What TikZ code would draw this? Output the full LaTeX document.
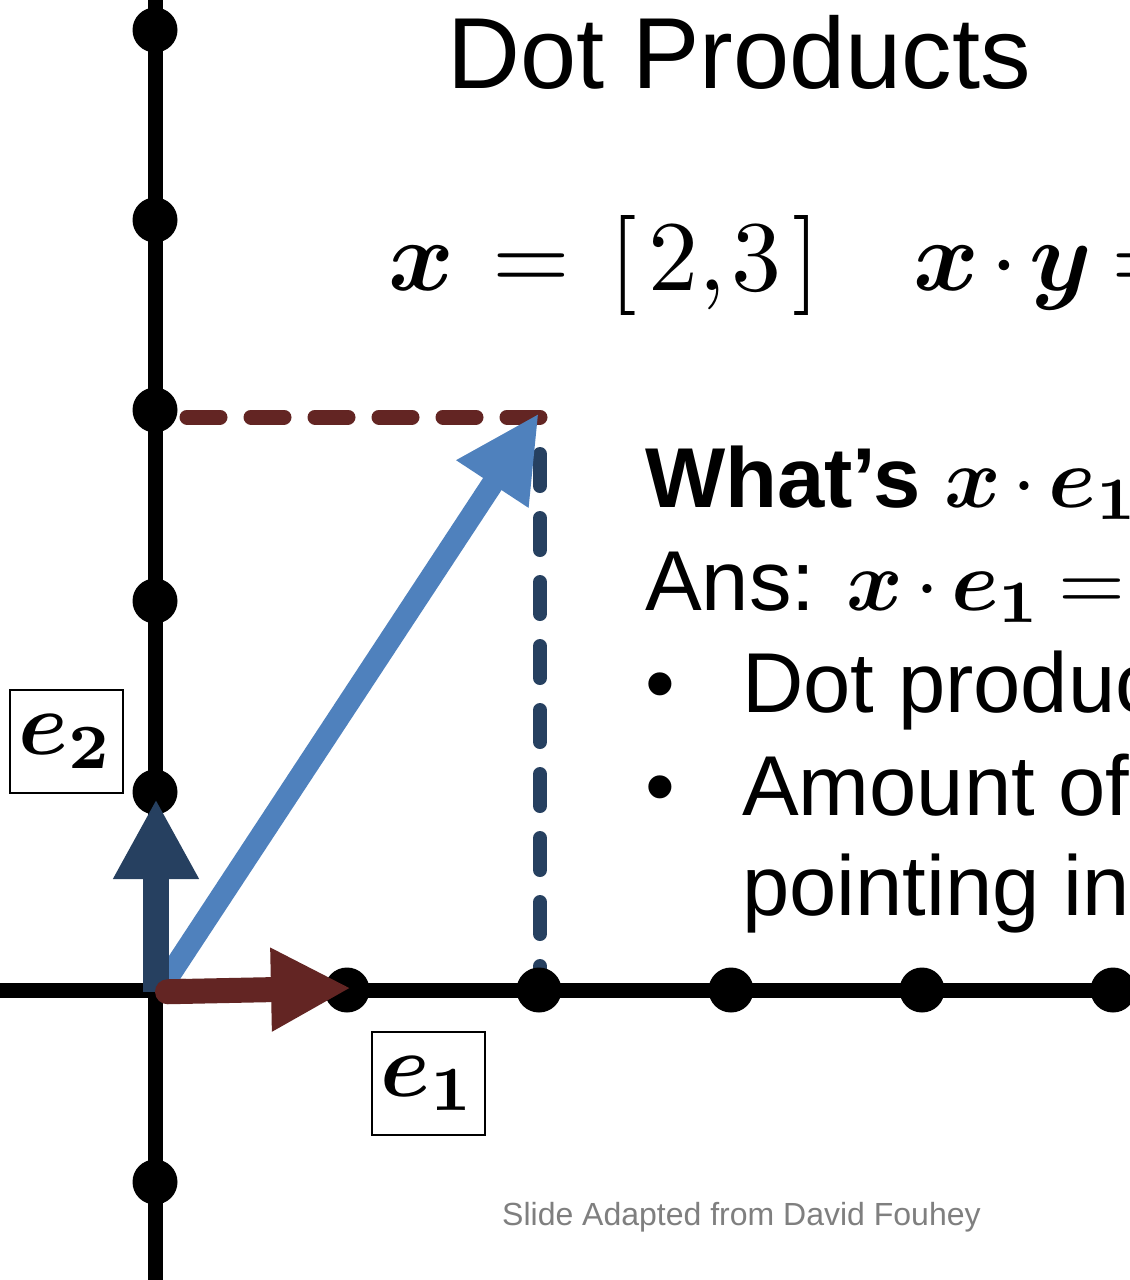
\documentclass[tikz,border=0pt]{standalone}
\usepackage[no-math]{fontspec}
\setmainfont{Liberation Sans}
\usepackage{amsmath}
\usepackage{bm}
\usepackage{graphicx}
\usetikzlibrary{arrows.meta}
\definecolor{dred}{RGB}{99,37,35}
\definecolor{dblue}{RGB}{38,64,96}
\definecolor{lblue}{RGB}{79,129,189}
\definecolor{footgray}{RGB}{127,127,127}
\tikzset{
  axis/.style={line width=15pt, draw=black},
  dotnode/.style={circle, fill=black, minimum size=45pt, inner sep=0pt},
  reddash/.style={draw=dred, line width=15pt, line cap=round, dash pattern=on 33pt off 31pt},
  bluedash/.style={draw=dblue, line width=14pt, line cap=round, dash pattern=on 32pt off 32pt},
  labelbox/.style={draw=black, line width=1.5pt, minimum width=113pt, minimum height=103pt, inner sep=0pt, anchor=north west},
  txt/.style={anchor=base west, inner sep=0pt, font=\fontsize{85}{85}\selectfont}
}
\newcommand{\mth}[2]{\scalebox{#1}{\fontsize{10}{12}\selectfont$#2$}}
\newcommand{\cdt}{\mskip2.5mu{\cdot}\mskip2.5mu}
\newcommand{\eqs}{\mskip3.5mu{=}\mskip3.5mu}
\begin{document}
\begin{tikzpicture}[x=1pt,y=-1pt]
\useasboundingbox (0,0) rectangle (1130,1280);
\fill[white] (0,0) rectangle (1130,1280);
\clip (0,0) rectangle (1130,1280);
% axes
\coordinate (vt) at (155,0);
\coordinate (vb) at (155,1280);
\coordinate (hl) at (0,990);
\coordinate (hr) at (1130,990);
\draw[axis] (vt) -- (vb);
\draw[axis] (hl) -- (hr);
% dashed projections
\coordinate (rd1) at (187,417);
\coordinate (rd2) at (540,417);
\coordinate (bd1) at (540,454);
\coordinate (bd2) at (540,985);
\draw[reddash] (rd1) -- (rd2);
\draw[bluedash] (bd1) -- (bd2);
% dots
\node[dotnode] (v1) at (155,30) {};
\node[dotnode] (v2) at (155,220) {};
\node[dotnode] (v3) at (155,410) {};
\node[dotnode] (v4) at (155,601) {};
\node[dotnode] (v5) at (155,792) {};
\node[dotnode] (v6) at (155,1182) {};
\node[dotnode] (h1) at (347,990) {};
\node[dotnode] (h2) at (539,990) {};
\node[dotnode] (h3) at (731,990) {};
\node[dotnode] (h4) at (922,990) {};
\node[dotnode] (h5) at (1113,990) {};
% vectors
\coordinate (xs) at (165,982);
\coordinate (xt) at (539,413);
\draw[lblue, line width=22pt, -{Triangle[length=85pt,width=80pt]}] (xs) -- (xt);
\coordinate (e2s) at (156,992);
\coordinate (e2t) at (156,799);
\draw[dblue, line width=26pt, -{Triangle[length=80pt,width=80pt]}] (e2s) -- (e2t);
\coordinate (e1s) at (155,992);
\coordinate (e1t) at (351,988);
\draw[dred, line width=25pt, {Round Cap[]}-{Triangle[length=80pt,width=78pt]}] (e1s) -- (e1t);
% label boxes
\node[labelbox] (b2) at (9,689) {\mth{9}{\bm{e}_{\mathbf{2}}}};
\node[labelbox] (b1) at (371,1031) {\mth{9}{\bm{e}_{\mathbf{1}}}};
% title
\node[anchor=base west, inner sep=0pt, font=\fontsize{101}{101}\selectfont] (title) at (447,88) {Dot Products};
% equations
\node[anchor=base west, inner sep=0pt] (eqx) at (388,290) {\mth{10}{\bm{x}\mskip7mu{=}\mskip7mu[\mskip2mu 2{,}\mskip1mu 3\mskip2mu]}};
\node[anchor=base west, inner sep=0pt] (eqxy) at (913,290) {\mth{10}{\bm{x}\mskip2mu{\cdot}\mskip2mu\bm{y}\eqs}};
% text block
\node[txt] (l1) at (645,507) {\bfseries What’s \mth{8.6}{\bm{x}\cdt\bm{e}_{\mathbf{1}}}};
\node[txt] (l2) at (645,610) {Ans: \mth{8.6}{\bm{x}\cdt\bm{e}_{\mathbf{1}}\eqs}};
\node[txt] (bul1) at (645,712) {•};
\node[txt] (l3) at (742,712) {Dot product};
\node[txt] (bul2) at (645,815) {•};
\node[txt] (l4) at (742,815) {Amount of};
\node[txt] (l5) at (742,915) {pointing in};
% footer
\node[anchor=base west, inner sep=0pt, text=footgray, font=\fontsize{32}{32}\selectfont] (foot) at (502,1225) {Slide Adapted from David Fouhey};
\end{tikzpicture}
\end{document}
